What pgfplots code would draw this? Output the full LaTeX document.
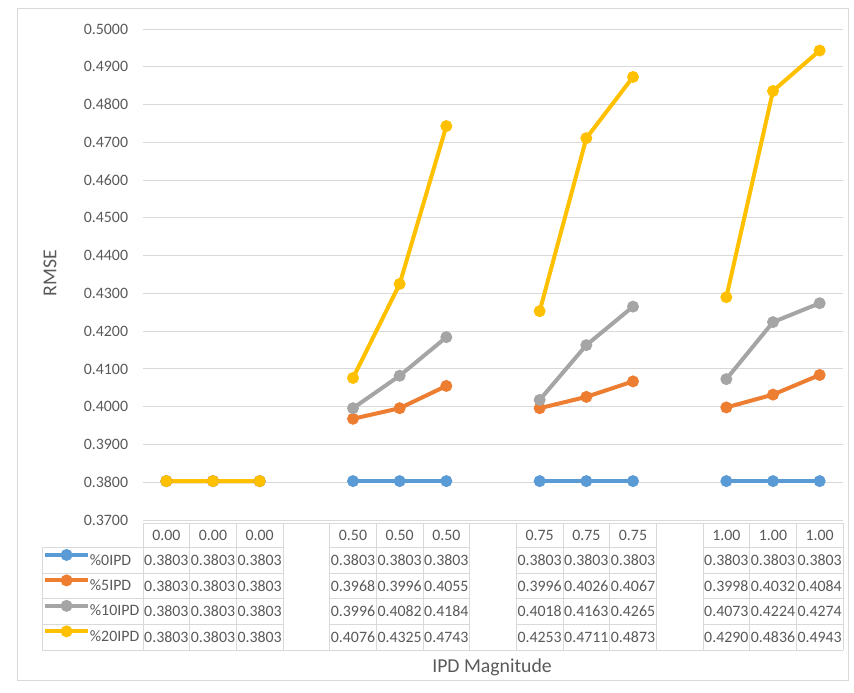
\documentclass[border=0pt]{standalone}
\usepackage{pgfplots}
\pgfplotsset{compat=1.18}
\usepackage{fontspec}
\setmainfont{Carlito}
\definecolor{cA}{HTML}{5B9BD5}
\definecolor{cB}{HTML}{ED7D31}
\definecolor{cC}{HTML}{A5A5A5}
\definecolor{cD}{HTML}{FFC000}
\definecolor{txt}{HTML}{595959}
\definecolor{gridc}{HTML}{D9D9D9}
\newcommand{\tfont}{\fontsize{11.9}{13.5}\selectfont}
\newcommand{\lfont}{\fontsize{14.8}{17}\selectfont}
\begin{document}
\begin{tikzpicture}
\begin{scope}[x=0.75pt,y=-0.75pt]
\useasboundingbox (0,0) rectangle (854,693);
\draw[color=gridc, line width=0.75pt] (17,8) rectangle (848,680);
\end{scope}
\begin{axis}[
  at={(107.25pt,-390pt)}, anchor=south west,
  scale only axis, width=525pt, height=368.25pt,
  xmin=-0.5, xmax=14.5, ymin=0.37, ymax=0.50,
  ytick distance=0.01, xtick=\empty,
  ymajorgrids, grid style={gridc, line width=0.75pt},
  axis line style={draw=none}, tick style={draw=none},
  scaled y ticks=false,
  yticklabel={\pgfmathprintnumber[fixed,fixed zerofill,precision=4,assume math mode=true]{\tick}},
  yticklabel style={font=\tfont, text=txt, inner sep=0pt, xshift=-11pt},
  unbounded coords=jump,
  every axis plot/.append style={line width=3pt, mark=*, mark size=2.9pt},
  legend style={at={(axis description cs:-0.1429,-0.055)}, anchor=north west, draw=none, fill=none,
    inner sep=0pt, row sep=0pt, font=\tfont, text=txt,
    nodes={inner sep=0pt, text height=13.3pt, text depth=5.8pt}},
  legend cell align=left,
  legend image code/.code={\draw[mark repeat=2,mark phase=2,#1] plot coordinates {(0pt,3.8pt) (16pt,3.8pt) (32pt,3.8pt)};},
]
\addplot[color=cA, mark options={fill=cA}] coordinates {(0,0.3803) (1,0.3803) (2,0.3803) (3,nan) (4,0.3803) (5,0.3803) (6,0.3803) (7,nan) (8,0.3803) (9,0.3803) (10,0.3803) (11,nan) (12,0.3803) (13,0.3803) (14,0.3803)};
\addlegendentry{\%0IPD}
\addplot[color=cB, mark options={fill=cB}] coordinates {(0,0.3803) (1,0.3803) (2,0.3803) (3,nan) (4,0.3968) (5,0.3996) (6,0.4055) (7,nan) (8,0.3996) (9,0.4026) (10,0.4067) (11,nan) (12,0.3998) (13,0.4032) (14,0.4084)};
\addlegendentry{\%5IPD}
\addplot[color=cC, mark options={fill=cC}] coordinates {(0,0.3803) (1,0.3803) (2,0.3803) (3,nan) (4,0.3996) (5,0.4082) (6,0.4184) (7,nan) (8,0.4018) (9,0.4163) (10,0.4265) (11,nan) (12,0.4073) (13,0.4224) (14,0.4274)};
\addlegendentry{\%10IPD}
\addplot[color=cD, mark options={fill=cD}] coordinates {(0,0.3803) (1,0.3803) (2,0.3803) (3,nan) (4,0.4076) (5,0.4325) (6,0.4743) (7,nan) (8,0.4253) (9,0.4711) (10,0.4873) (11,nan) (12,0.4290) (13,0.4836) (14,0.4943)};
\addlegendentry{\%20IPD}
\end{axis}
\begin{scope}[x=0.75pt,y=-0.75pt]
\def\cw{46.6667}
\draw[gridc, line width=0.75pt] (143,523) -- (843,523);
\draw[gridc, line width=0.75pt] (42,547) -- (42,650) -- (843,650);
\foreach \i in {0,...,15} {\draw[gridc, line width=0.75pt] ({143+\i*\cw},523) -- ({143+\i*\cw},650);}
\foreach \yy in {547,573,598,624} {
  \draw[gridc, line width=0.75pt] (42,\yy) -- ({143+3*\cw},\yy);
  \draw[gridc, line width=0.75pt] ({143+4*\cw},\yy) -- ({143+7*\cw},\yy);
  \draw[gridc, line width=0.75pt] ({143+8*\cw},\yy) -- ({143+11*\cw},\yy);
  \draw[gridc, line width=0.75pt] ({143+12*\cw},\yy) -- ({143+15*\cw},\yy);
}
\foreach \t [count=\i from 0] in {0.00,0.00,0.00,,0.50,0.50,0.50,,0.75,0.75,0.75,,1.00,1.00,1.00}
  {\node[font=\tfont, text=txt, inner sep=0pt] at ({143+(\i+0.5)*\cw},535.5) {\t};}
\foreach \t [count=\i from 0] in {0.3803,0.3803,0.3803,,0.3803,0.3803,0.3803,,0.3803,0.3803,0.3803,,0.3803,0.3803,0.3803}
  {\node[font=\tfont, text=txt, inner sep=0pt] at ({143+(\i+0.5)*\cw},560.5) {\t};}
\foreach \t [count=\i from 0] in {0.3803,0.3803,0.3803,,0.3968,0.3996,0.4055,,0.3996,0.4026,0.4067,,0.3998,0.4032,0.4084}
  {\node[font=\tfont, text=txt, inner sep=0pt] at ({143+(\i+0.5)*\cw},586) {\t};}
\foreach \t [count=\i from 0] in {0.3803,0.3803,0.3803,,0.3996,0.4082,0.4184,,0.4018,0.4163,0.4265,,0.4073,0.4224,0.4274}
  {\node[font=\tfont, text=txt, inner sep=0pt] at ({143+(\i+0.5)*\cw},611.5) {\t};}
\foreach \t [count=\i from 0] in {0.3803,0.3803,0.3803,,0.4076,0.4325,0.4743,,0.4253,0.4711,0.4873,,0.4290,0.4836,0.4943}
  {\node[font=\tfont, text=txt, inner sep=0pt] at ({143+(\i+0.5)*\cw},637) {\t};}
\node[font=\lfont, text=txt, rotate=90] at (50,273) {RMSE};
\node[font=\lfont, text=txt] at (492,667) {IPD Magnitude};
\end{scope}
\end{tikzpicture}
\end{document}
